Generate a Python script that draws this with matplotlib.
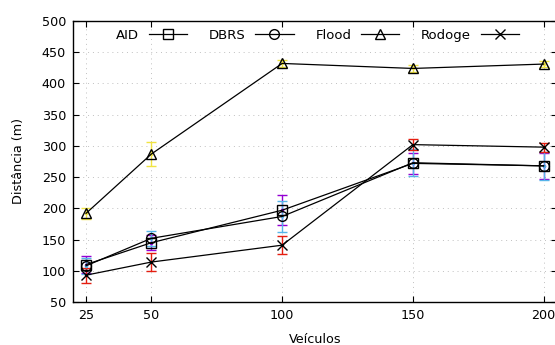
import matplotlib.pyplot as plt

veiculos = [25, 50, 100, 150, 200]

aid = [110, 145, 197, 272, 268]
aid_err = [14, 12, 24, 17, 21]

dbrs = [108, 152, 187, 273, 268]
dbrs_err = [13, 12, 25, 22, 22]

flood = [192, 287, 432, 424, 431]
flood_err = [9, 20, 5, 6, 5]

rodoge = [93, 114, 141, 302, 298]
rodoge_err = [12, 15, 14, 9, 7]

series = [
    ('AID', aid, aid_err, 's', '#9400D3'),
    ('DBRS', dbrs, dbrs_err, 'o', '#56B4E9'),
    ('Flood', flood, flood_err, '^', '#F0E442'),
    ('Rodoge', rodoge, rodoge_err, 'x', '#E51E10'),
]

plt.rcParams['font.family'] = 'DejaVu Sans'
fig = plt.figure(figsize=(5.55, 3.45), dpi=100)
ax = fig.add_axes([0.1315, 0.1246, 0.8715, 0.8146])

for name, vals, errs, marker, color in series:
    ax.errorbar(veiculos, vals, yerr=errs, fmt='.', color=color, markersize=3,
                elinewidth=1, capsize=3.5, capthick=1, zorder=2)
for name, vals, errs, marker, color in series:
    ax.plot(veiculos, vals, color='black', linewidth=0.9, marker=marker,
            markersize=7, markerfacecolor='none', markeredgecolor='black',
            markeredgewidth=1, label=name, zorder=3)

ax.set_xlim(20, 205)
ax.set_ylim(50, 500)
ax.set_xticks(veiculos)
ax.set_yticks(range(50, 501, 50))
ax.tick_params(direction='in', top=True, right=True, labelsize=9.2,
               length=4, width=0.8, pad=5)
ax.grid(True, color='#c0c0c0', linestyle=(0, (1, 4)), linewidth=0.7)
for s in ax.spines.values():
    s.set_linewidth(1)

ax.set_xlabel('Veículos', fontsize=9.2, labelpad=8)
ax.set_ylabel('Distância (m)', fontsize=9.2, labelpad=12)

ax.legend(loc='upper center', bbox_to_anchor=(0.5056, 1.0), ncol=4,
          frameon=False, markerfirst=False, fontsize=9.5, handlelength=2.9,
          columnspacing=1.65, handletextpad=0.75, borderaxespad=0.2)

fig.savefig('out.png', dpi=100)
